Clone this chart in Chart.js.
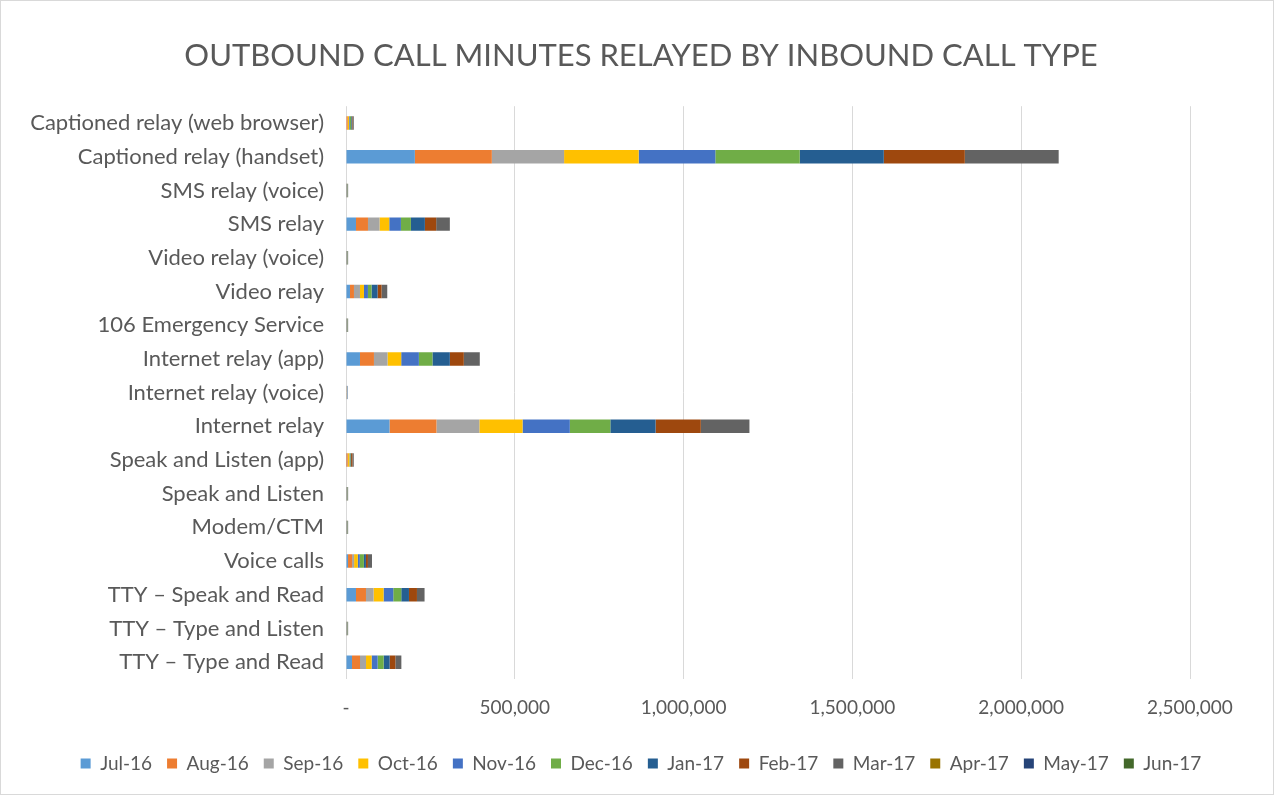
<!DOCTYPE html>
<html>
<head>
<meta charset="utf-8">
<script src="https://cdn.jsdelivr.net/npm/chart.js@4.4.0/dist/chart.umd.min.js"></script>
<style>
  body { margin: 0; background: #ffffff; }
  #wrap { position: absolute; left: 0; top: 0; width: 1272px; height: 793px; border: 1px solid #d9d9d9; }
</style>
</head>
<body>
<div id="wrap"><canvas id="relayChart" width="1272" height="793"></canvas></div>
<script>
// categories, top to bottom as in the chart
const callTypes = [
    'Captioned relay (web browser)',
    'Captioned relay (handset)',
    'SMS relay (voice)',
    'SMS relay',
    'Video relay (voice)',
    'Video relay',
    '106 Emergency Service',
    'Internet relay (app)',
    'Internet relay (voice)',
    'Internet relay',
    'Speak and Listen (app)',
    'Speak and Listen',
    'Modem/CTM',
    'Voice calls',
    'TTY \u2013 Speak and Read',
    'TTY \u2013 Type and Listen',
    'TTY \u2013 Type and Read'
];

const months = ['Jul-16', 'Aug-16', 'Sep-16', 'Oct-16', 'Nov-16', 'Dec-16',
    'Jan-17', 'Feb-17', 'Mar-17', 'Apr-17', 'May-17', 'Jun-17'];

const monthColors = ['#5B9BD5', '#ED7D31', '#A5A5A5', '#FFC000', '#4472C4', '#70AD47',
    '#255E91', '#9E480E', '#636363', '#997300', '#264478', '#43682B'];

// minutes per month, one value per call type (same order as callTypes)
const jul16 = [0, 204000, 600, 29600, 600, 11800, 600, 41400, 1500, 129000, 1000, 600, 600, 6000, 29600, 600, 17800];
const aug16 = [5000, 228000, 600, 35500, 600, 11800, 600, 41400, 300, 139000, 4000, 600, 600, 12000, 29600, 600, 23700];
const sep16 = [0, 214000, 600, 34300, 600, 17800, 600, 40200, 300, 127000, 1000, 600, 600, 6000, 22500, 600, 17800];
const oct16 = [4000, 221000, 600, 28700, 600, 11800, 600, 40500, 300, 128000, 4000, 600, 600, 11000, 29600, 600, 16600];
const nov16 = [2000, 227000, 600, 34600, 600, 11800, 600, 52400, 1500, 140000, 1000, 600, 600, 6000, 28700, 600, 17800];
const dec16 = [4000, 250000, 600, 29600, 600, 10700, 600, 40200, 300, 120000, 2000, 600, 600, 12000, 23700, 600, 17800];
const jan17 = [2000, 249000, 600, 41400, 600, 17800, 600, 51500, 300, 134000, 2000, 600, 600, 6000, 22800, 600, 17800];
const feb17 = [2000, 240000, 600, 33400, 600, 11800, 600, 41400, 300, 134000, 4000, 600, 600, 6000, 23700, 600, 16900];
const mar17 = [4000, 278000, 1500, 40500, 1500, 16900, 1500, 47300, 300, 144000, 4000, 1500, 1500, 12000, 22500, 1500, 17800];
const apr17 = [0, 0, 0, 0, 0, 0, 0, 0, 0, 0, 0, 0, 0, 0, 0, 0, 0];
const may17 = [0, 0, 0, 0, 0, 0, 0, 0, 0, 0, 0, 0, 0, 0, 0, 0, 0];
const jun17 = [0, 0, 0, 0, 0, 0, 0, 0, 0, 0, 0, 0, 0, 0, 0, 0, 0];

const monthValues = [jul16, aug16, sep16, oct16, nov16, dec16, jan17, feb17, mar17, apr17, may17, jun17];

const xTicks = [0, 500000, 1000000, 1500000, 2000000, 2500000];

const textColor = '#595959';
const fontFamily = 'Lato, "Open Sans", sans-serif';

const ctx = document.getElementById('relayChart').getContext('2d');
const relayChart = new Chart(ctx, {
    type: 'bar',
    data: {
        labels: callTypes,
        datasets: months.map((m, i) => ({
            label: m,
            data: monthValues[i],
            backgroundColor: monthColors[i],
            borderWidth: 0,
            barPercentage: 0.8,
            categoryPercentage: 0.5
        }))
    },
    options: {
        indexAxis: 'y',
        responsive: false,
        animation: false,
        layout: { padding: { left: 18, right: 10, top: 8, bottom: 11 } },
        plugins: {
            title: {
                display: true,
                text: 'OUTBOUND CALL MINUTES RELAYED BY INBOUND CALL TYPE',
                color: textColor,
                font: { family: fontFamily, size: 31, weight: 'normal' },
                padding: { top: 28, bottom: 32 }
            },
            legend: {
                position: 'bottom',
                labels: {
                    color: textColor,
                    font: { family: fontFamily, size: 19 },
                    boxWidth: 10,
                    boxHeight: 10,
                    padding: 15
                }
            },
            tooltip: { enabled: false }
        },
        scales: {
            x: {
                stacked: true,
                min: 0,
                max: 2500000,
                afterBuildTicks: (axis) => { axis.ticks = xTicks.map(v => ({ value: v })); },
                afterFit: (axis) => { axis.height = 60; },
                grid: { color: '#d9d9d9', drawTicks: false },
                border: { display: false },
                ticks: {
                    color: textColor,
                    font: { family: fontFamily, size: 19 },
                    padding: 17,
                    callback: (v) => v === 0 ? '-' : v.toLocaleString('en-US')
                }
            },
            y: {
                stacked: true,
                grid: { display: false },
                border: { display: false },
                afterFit: (axis) => { axis.width = 327; },
                ticks: {
                    color: textColor,
                    font: { family: fontFamily, size: 22 },
                    padding: 14,
                    autoSkip: false
                }
            },
            // empty axis that only keeps room on the right, like the original
            yRight: {
                type: 'linear',
                axis: 'y',
                position: 'right',
                grid: { display: false },
                border: { display: false },
                ticks: { display: false },
                afterFit: (axis) => { axis.width = 73; }
            }
        }
    }
});
</script>
</body>
</html>
